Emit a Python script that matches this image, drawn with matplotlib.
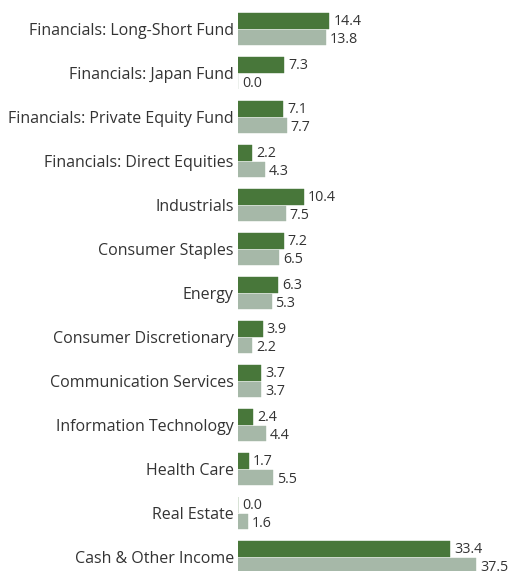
from matplotlib import pyplot as plt
import numpy as np

# Data
categories = [
    "Financials: Long-Short Fund",
    "Financials: Japan Fund",
    "Financials: Private Equity Fund",
    "Financials: Direct Equities",
    "Industrials",
    "Consumer Staples",
    "Energy",
    "Consumer Discretionary",
    "Communication Services",
    "Information Technology",
    "Health Care",
    "Real Estate",
    "Cash & Other Income",
]
series_a = [14.4, 7.3, 7.1, 2.2, 10.4, 7.2, 6.3, 3.9, 3.7, 2.4, 1.7, 0.0, 33.4]
series_b = [13.8, 0.0, 7.7, 4.3, 7.5, 6.5, 5.3, 2.2, 3.7, 4.4, 5.5, 1.6, 37.5]

dark = "#48773a"
light = "#a6b8a8"
text_color = "#333333"

plt.rcParams['font.family'] = ['Open Sans', 'DejaVu Sans']

fig = plt.figure(figsize=(5.08, 5.71), dpi=100)
ax = fig.add_axes([238 / 508, 0, 270 / 508, 1])

y = np.arange(len(categories))
ax.barh(y - 0.185, series_a, height=0.355, color=dark,
        edgecolor=dark, linewidth=0.3)
ax.barh(y + 0.19, series_b, height=0.345, color=light,
        edgecolor=light, linewidth=0.3)

# value labels
for i, (a, b) in enumerate(zip(series_a, series_b)):
    ax.text(a + 0.6, i - 0.17, f"{a:.1f}", va='center', ha='left',
            fontsize=10.3, color=text_color)
    ax.text(b + 0.6, i + 0.24, f"{b:.1f}", va='center', ha='left',
            fontsize=10.3, color=text_color)

ax.set_yticks(y)
ax.set_yticklabels(categories, fontsize=11.5, color=text_color)
ax.tick_params(axis='y', length=0, pad=3)
ax.set_xticks([])
ax.set_xlim(0, 270 / 6.35)
ax.set_ylim((571 - 29) / 44, -29 / 44)
for s in ax.spines.values():
    s.set_visible(False)

fig.savefig("out.png", dpi=100)
